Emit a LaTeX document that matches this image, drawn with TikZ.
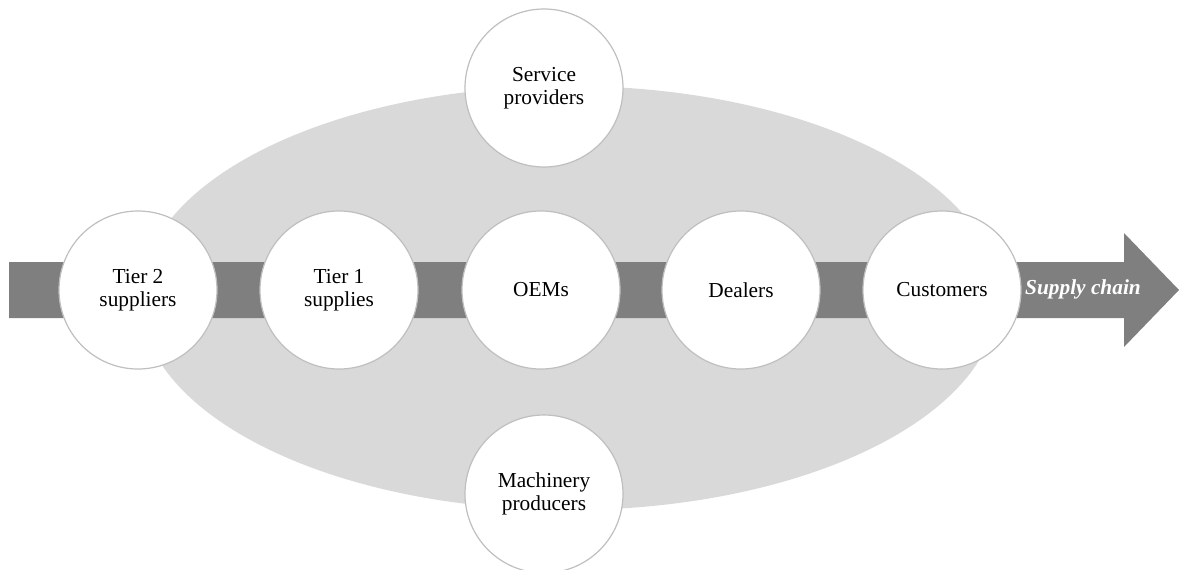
\documentclass[tikz,border=0pt]{standalone}
\usepackage{fontspec}
\setmainfont{Liberation Serif}
\definecolor{cloud}{HTML}{D9D9D9}
\definecolor{flow}{HTML}{7F7F7F}
\definecolor{rim}{HTML}{BFBFBF}
\begin{document}
\begin{tikzpicture}[x=0.75pt,y=-0.75pt,
  actor/.style={circle,draw=rim,line width=0.9pt,fill=white,minimum size=118.5pt,
    inner sep=0pt,align=center,font=\fontsize{16}{17.5}\selectfont},
  flowlabel/.style={text=white,font=\fontsize{16}{18}\selectfont\bfseries\itshape}]
  \useasboundingbox (0,0) rectangle (1179,569);
  % shared environment of the chain
  \fill[cloud] (569,298) ellipse [x radius=429, y radius=212];
  % supply chain arrow
  \fill[flow] (9,262) -- (1124,262) -- (1124,233) -- (1179,290)
    -- (1124,347) -- (1124,318) -- (9,318) -- cycle;
  \node[flowlabel] (sc) at (1083,289) {Supply chain};
  % chain members
  \node[actor] (t2)  at (138,290) {Tier 2\\suppliers};
  \node[actor] (t1)  at (339,290) {Tier 1\\supplies};
  \node[actor] (oem) at (541,290) {OEMs};
  \node[actor] (dl)  at (741,290) {Dealers};
  \node[actor] (cu)  at (942,290) {Customers};
  % supporting actors
  \node[actor] (sp)  at (544,88)  {Service\\providers};
  \node[actor] (mp)  at (544,494) {Machinery\\producers};
\end{tikzpicture}
\end{document}
